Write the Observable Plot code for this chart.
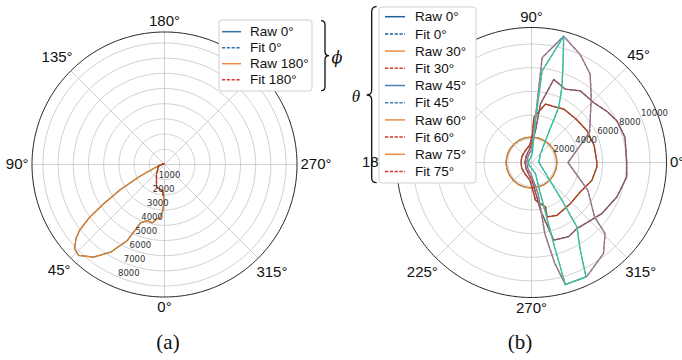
<!DOCTYPE html>
<html><head><meta charset="utf-8">
<script src="https://cdn.jsdelivr.net/npm/d3@7"></script>
<script src="https://cdn.jsdelivr.net/npm/@observablehq/plot@0.6"></script>
<style>
html,body{margin:0;padding:0;background:#fff;width:682px;height:360px;overflow:hidden;}
body{position:relative;}
.panel{position:absolute;}
.panel svg{max-width:none !important;display:block;}
#ov{position:absolute;left:0;top:0;pointer-events:none;}
</style></head><body>
<div id="pa" class="panel" style="left:0px;top:0px;width:328px;height:328px"></div>
<div id="pb" class="panel" style="left:351px;top:-18px;width:360px;height:360px"></div>
<svg id="ov" width="682" height="360"></svg>
<script>
// ---------- Panel (a): r(θ) for φ = 0° and φ = 180° ----------
const aGridAngles = [0, 45, 90, 135, 180, 225, 270, 315];
// the 225° label sits under the legend in the reference, so it is not shown
const aThetaTicks = [0, 45, 90, 135, 180, 270, 315];
const aThetaLabels = ["0°", "45°", "90°", "135°", "180°", "270°", "315°"];
const aRadialTicks = [1000, 2000, 3000, 4000, 5000, 6000, 7000, 8000];
const aRaw0Theta = [3, 1, 2, 4.9, 7.8, 11.9, 17.1, 22.3, 26.1, 31.6, 37.5, 43.4, 46.9, 50.1, 52.2, 54.8, 57.2, 60.4, 64.4, 74.7, 110];
const aRaw0R = [1720, 2370, 3030, 3550, 3600, 3930, 3870, 4160, 5570, 6780, 7680, 8240, 8110, 7590, 7080, 6040, 4740, 3330, 1820, 500, 80];
const aRaw180Theta = [150, 80, 40.7, 19.4, 5.1, 2];
const aRaw180R = [60, 380, 810, 1580, 1720, 2050];
const aLegendLabels = ["Raw 0°", "Fit 0°", "Raw 180°", "Fit 180°"];

// ---------- Panel (b): r(φ) for θ = 0°, 30°, 45°, 60°, 75° ----------
const bGridAngles = [0, 45, 90, 135, 180, 225, 270, 315];
// the 135° label sits under the legend in the reference, so it is not shown
const bPhiTicks = [0, 45, 90, 180, 225, 270, 315];
const bPhiLabels = ["0°", "45°", "90°", "180°", "225°", "270°", "315°"];
const bRadialTicks = [2000, 4000, 6000, 8000, 10000];
const b0Phi = [0, 15, 30, 45, 60, 75, 90, 105, 120, 135, 150, 165, 180, 195, 210, 225, 240, 255, 270, 285, 300, 315, 330, 345, 360];
const b0R = [2150, 2150, 2160, 2150, 2140, 2150, 2150, 2160, 2150, 2140, 2150, 2150, 2150, 2150, 2140, 2150, 2160, 2150, 2150, 2140, 2150, 2160, 2150, 2150, 2150];
const b30Phi = [0, 15, 30, 45, 59, 67, 76.6, 87, 88, 95, 120, 150, 180, 210, 240, 265, 272, 276, 287.4, 286, 295.8, 313.3, 328.8, 343.5, 356, 360];
const b30R = [5520, 5480, 5400, 5250, 5270, 5100, 5070, 3820, 2400, 1500, 1100, 950, 880, 950, 1100, 1500, 2200, 3210, 3930, 4780, 4950, 4780, 4810, 5320, 5530, 5520];
const b45Phi = [0, 15.1, 26.1, 34, 44.1, 55.8, 65.2, 75, 81.3, 82.9, 88, 100, 130, 180, 230, 260, 272, 280.6, 286, 296.6, 304.5, 324, 338, 351.3, 360];
const b45R = [8040, 8180, 8020, 7700, 7290, 7320, 6820, 7260, 5000, 2700, 1700, 1100, 700, 560, 700, 1100, 1500, 4100, 6820, 7000, 6770, 7340, 7770, 8130, 8040];
const b60Phi = [0, 27.5, 47.4, 56.4, 65.7, 75.7, 84.2, 84.4, 85, 84.7, 90, 120, 180, 240, 270, 282, 280.6, 283, 285.5, 295.9, 308.4, 316, 319.2, 333.7, 360];
const b60R = [3080, 5530, 7450, 8950, 10000, 11000, 8900, 6360, 3820, 2140, 1100, 600, 400, 600, 1100, 2700, 6100, 8740, 10700, 10700, 9790, 8640, 7030, 5310, 3080];
const b75Phi = [2.6, 43.9, 57.5, 61.9, 63.7, 67.9, 72.2, 75.7, 83.4, 84.6, 85.6, 100, 140, 180, 220, 260, 289.5, 286, 285.3, 285.5, 295.5, 299.1, 305.2, 308.9, 327, 362.6];
const b75R = [620, 1050, 2190, 3680, 5180, 6830, 8700, 11000, 7780, 3550, 730, 400, 300, 250, 300, 400, 1000, 2740, 7090, 10700, 10700, 8470, 6650, 4100, 1240, 620];
const bLegendLabels = ["Raw 0°", "Fit 0°", "Raw 30°", "Fit 30°", "Raw 45°", "Fit 45°", "Raw 60°", "Fit 60°", "Raw 75°", "Fit 75°"];

// ---------- styles ----------
const C = {blue: "#1f77b4", orange: "#ff7f0e", green: "#2ca02c", red: "#d62728", purple: "#9467bd",
  brown: "#8c564b", pink: "#e377c2", gray: "#7f7f7f", olive: "#bcbd22", cyan: "#17becf"};
const DASH = "3.6,1.6";
const rows = (a, r) => a.map((v, i) => ({a: v, r: r[i]}));

function polarPanel({rmax, R, half, lon, dir, rings, rlabelAt, grid, ticks, labels, series}) {
  const k = R / rmax;
  const lat = (r) => 90 - r / 1000;
  const domain = d3.geoCircle().center([0, 90]).radius((rmax / 1000) * half / R).precision(1)();
  const labelRows = ticks.map((t, i) => {
    const s = labels[i];
    const halfW = (s.replace("°", "").length * 8.34 + 6) / 2;
    const [hx, vy] = dir(t);
    const d = R + 3.5 + halfW * Math.abs(hx) + 7 * Math.abs(vy);
    return {t, s, r: d / k};
  });
  const marks = [
    Plot.geo(rings, {geometry: (r) => d3.geoCircle().center([0, 90]).radius(r / 1000).precision(2)(), stroke: "#c4c4c4", strokeWidth: 0.8, fill: "none"}),
    Plot.link(grid, {x1: (t) => lon(t), y1: 90, x2: (t) => lon(t), y2: lat(rmax), stroke: "#c4c4c4", strokeWidth: 0.8})
  ];
  for (const s of series) {
    const opts = {x: (d) => lon(d.a), y: (d) => lat(d.r), stroke: s.color, strokeWidth: 1.3, curve: "linear"};
    if (s.dash) opts.strokeDasharray = DASH;
    marks.push(Plot.line(s.data, opts));
  }
  marks.push(Plot.geo([rmax], {geometry: (r) => d3.geoCircle().center([0, 90]).radius(r / 1000).precision(1)(), stroke: "#222", strokeWidth: 1, fill: "none"}));
  marks.push(Plot.text(rings.filter((r) => r < rmax), {x: lon(rlabelAt), y: (r) => lat(r), text: (r) => String(r), textAnchor: "start", lineAnchor: "bottom", dy: -1, fontSize: 8.5, fontFamily: "DejaVu Sans", fill: "#333"}));
  marks.push(Plot.text(labelRows, {x: (d) => lon(d.t), y: (d) => lat(d.r), text: "s", fontSize: 15, fontFamily: "Liberation Sans", fill: "#111"}));
  return Plot.plot({
    width: 2 * half, height: 2 * half, margin: 0,
    style: {background: "transparent", overflow: "visible"},
    projection: {type: "azimuthal-equidistant", rotate: [0, -90], domain},
    marks
  });
}

const rA = (Math.PI / 180);
const panelA = polarPanel({
  rmax: 8720, R: 132.5, half: 164,
  lon: (t) => -t,
  dir: (t) => [Math.sin(t * rA), Math.cos(t * rA)],
  rings: aRadialTicks, rlabelAt: 22.5, grid: aGridAngles, ticks: aThetaTicks, labels: aThetaLabels,
  series: [
    {data: rows(aRaw0Theta, aRaw0R), color: C.blue},
    {data: rows(aRaw0Theta, aRaw0R), color: C.orange, dash: true},
    {data: rows(aRaw180Theta, aRaw180R), color: C.green},
    {data: rows(aRaw180Theta, aRaw180R), color: C.red, dash: true}
  ]
});
document.getElementById("pa").appendChild(panelA);

const panelB = polarPanel({
  rmax: 11400, R: 135, half: 180,
  lon: (p) => 90 + p,
  dir: (p) => [Math.cos(p * rA), Math.sin(p * rA)],
  rings: bRadialTicks, rlabelAt: 22.5, grid: bGridAngles, ticks: bPhiTicks, labels: bPhiLabels,
  series: [
    {data: rows(b0Phi, b0R), color: C.blue},
    {data: rows(b0Phi, b0R), color: C.orange, dash: true},
    {data: rows(b30Phi, b30R), color: C.green},
    {data: rows(b30Phi, b30R), color: C.red, dash: true},
    {data: rows(b45Phi, b45R), color: C.purple},
    {data: rows(b45Phi, b45R), color: C.brown, dash: true},
    {data: rows(b60Phi, b60R), color: C.pink},
    {data: rows(b60Phi, b60R), color: C.gray, dash: true},
    {data: rows(b75Phi, b75R), color: C.olive},
    {data: rows(b75Phi, b75R), color: C.cyan, dash: true}
  ]
});
document.getElementById("pb").appendChild(panelB);

// ---------- legends, braces, captions ----------
const ov = d3.select("#ov");
function legend(box, y0, step, x1, x2, tx, labels, colors) {
  ov.append("rect").attr("x", box[0]).attr("y", box[1]).attr("width", box[2]).attr("height", box[3])
    .attr("rx", 3).attr("fill", "#fff").attr("stroke", "#cfcfcf").attr("stroke-width", 1);
  labels.forEach((lab, i) => {
    const y = y0 + i * step;
    ov.append("line").attr("x1", x1).attr("x2", x2).attr("y1", y).attr("y2", y)
      .attr("stroke", colors[i]).attr("stroke-width", 1.5)
      .attr("stroke-dasharray", lab.startsWith("Fit") ? "3.2,1.6" : null);
    ov.append("text").attr("x", tx).attr("y", y).attr("dy", "0.35em")
      .attr("font-family", "Liberation Sans, Arial, sans-serif").attr("font-size", 13.5).attr("fill", "#111").text(lab);
  });
}
legend([219, 20, 93, 71], 31.7, 16, 222, 241, 250, aLegendLabels, ["#2f6fad", "#2f6fad", "#ec8a45", "#d9322f"]);
legend([379, 7, 97, 176], 16.7, 17.2, 385, 405, 415, bLegendLabels,
  ["#1f5f9f", "#1f5f9f", "#ec8a45", "#d9322f", "#4a7fb5", "#4a7fb5", "#ec8a45", "#d9322f", "#ec8a45", "#d9322f"]);

// right brace for φ
ov.append("path").attr("d", "M321,20.7 Q325,20.7 325,25 L325,51.5 Q325,55.7 329,55.7 Q325,55.7 325,60 L325,86.5 Q325,90.7 321,90.7")
  .attr("fill", "none").attr("stroke", "#111").attr("stroke-width", 1.3);
ov.append("text").attr("x", 337).attr("y", 57).attr("dy", "0.35em").attr("text-anchor", "middle")
  .attr("font-family", "DejaVu Serif, Liberation Serif, serif").attr("font-style", "italic").attr("font-size", 16).attr("fill", "#111").text("ϕ");
// left brace for θ
ov.append("path").attr("d", "M376.7,6.7 Q371.7,6.7 371.7,11.7 L371.7,90 Q371.7,95 366.7,95 Q371.7,95 371.7,100 L371.7,177.7 Q371.7,182.7 376.7,182.7")
  .attr("fill", "none").attr("stroke", "#111").attr("stroke-width", 1.3);
ov.append("text").attr("x", 356).attr("y", 96).attr("dy", "0.35em").attr("text-anchor", "middle")
  .attr("font-family", "Liberation Serif, DejaVu Serif, serif").attr("font-style", "italic").attr("font-size", 17).attr("fill", "#111").text("θ");
// captions
[["(a)", 168], ["(b)", 520]].forEach(([t, x]) => {
  ov.append("text").attr("x", x).attr("y", 349).attr("text-anchor", "middle")
    .attr("font-family", "Liberation Serif, Times New Roman, serif").attr("font-size", 21).attr("fill", "#111").text(t);
});
</script>
</body></html>
